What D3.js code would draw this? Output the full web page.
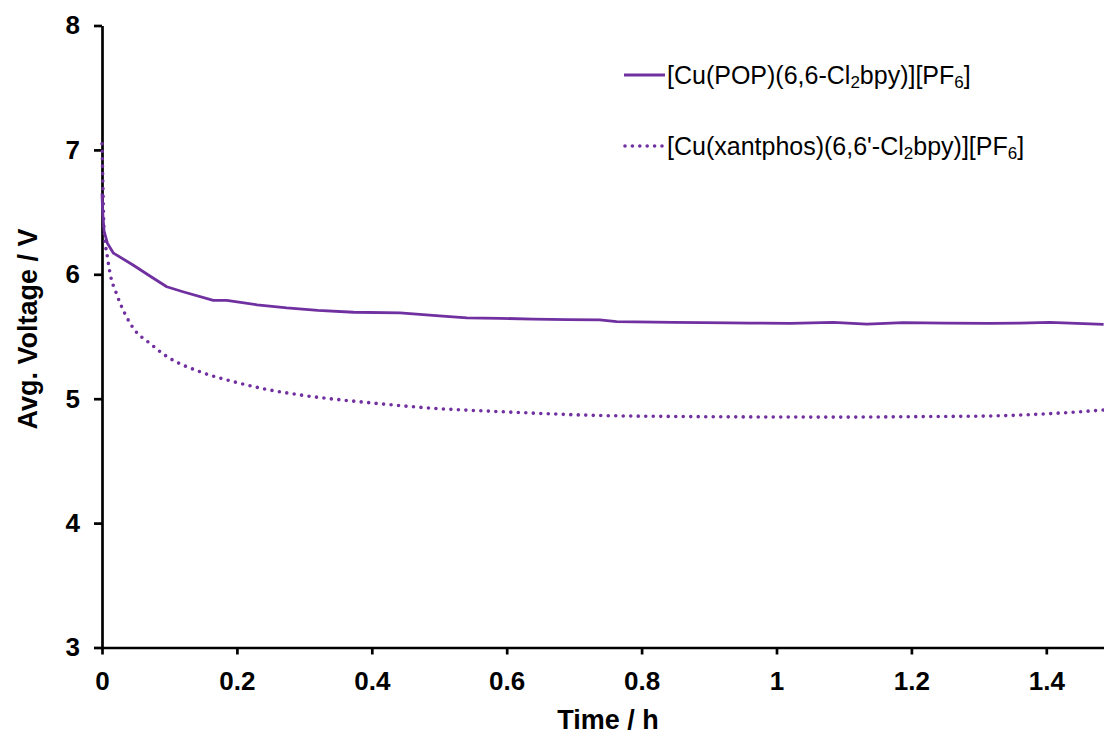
<!DOCTYPE html>
<html>
<head>
<meta charset="utf-8">
<script src="https://cdn.jsdelivr.net/npm/d3@7"></script>
<style>
  html, body { margin: 0; padding: 0; background: #fff; }
  svg { display: block; font-family: "Liberation Sans", Arial, Helvetica, sans-serif; }
  .axis path, .axis line { stroke: #000; stroke-width: 2.7; }
  .axis text { font-size: 26px; font-weight: bold; fill: #000; }
  .title { font-size: 27px; font-weight: bold; fill: #000; }
  .legend text { font-size: 25px; fill: #000; }
</style>
</head>
<body>
<svg id="chart" width="1104" height="736"></svg>
<script>
// Average voltage over time for two Cu(I) complexes
const popTime = [0, 0.001, 0.003, 0.008, 0.017, 0.046, 0.071, 0.096, 0.12, 0.165, 0.185, 0.23, 0.274, 0.32, 0.373, 0.442, 0.5, 0.541, 0.59, 0.639, 0.69, 0.738, 0.763, 0.847, 0.93, 0.961, 1.02, 1.084, 1.134, 1.188, 1.25, 1.317, 1.36, 1.405, 1.485];
const popVolt = [6.65, 6.5, 6.35, 6.25, 6.17, 6.075, 5.986, 5.90, 5.86, 5.79, 5.79, 5.755, 5.73, 5.71, 5.695, 5.69, 5.665, 5.65, 5.646, 5.64, 5.636, 5.633, 5.62, 5.614, 5.61, 5.608, 5.606, 5.614, 5.60, 5.611, 5.607, 5.606, 5.607, 5.614, 5.598];

const xanTime = [0, 0.001, 0.002, 0.003, 0.008, 0.0143, 0.019, 0.0267, 0.046, 0.071, 0.096, 0.145, 0.195, 0.244, 0.294, 0.392, 0.491, 0.59, 0.738, 0.85, 1.0, 1.1, 1.217, 1.317, 1.415, 1.485];
const xanVolt = [7.05, 6.8, 6.55, 6.36, 6.14, 5.95, 5.88, 5.77, 5.57, 5.445, 5.34, 5.217, 5.137, 5.075, 5.03, 4.97, 4.923, 4.896, 4.865, 4.857, 4.853, 4.852, 4.856, 4.861, 4.883, 4.909];

const xTicks = [0, 0.2, 0.4, 0.6, 0.8, 1, 1.2, 1.4];
const yTicks = [3, 4, 5, 6, 7, 8];

const purple = "#7030A0";

const svg = d3.select("#chart");

const x = d3.scaleLinear().domain([0, 1.5]).range([102, 1113.75]);
const y = d3.scaleLinear().domain([3, 8]).range([647.5, 25.5]);

// axes
svg.append("g")
  .attr("class", "axis")
  .attr("transform", `translate(0,${y(3)})`)
  .call(d3.axisBottom(x).tickValues(xTicks).tickSize(7).tickSizeOuter(0).tickPadding(17)
    .tickFormat(d => String(+d.toFixed(1))));

svg.append("g")
  .attr("class", "axis")
  .attr("transform", `translate(${x(0)},0)`)
  .call(d3.axisLeft(y).tickValues(yTicks).tickSize(8).tickSizeOuter(0).tickPadding(14)
    .tickFormat(d3.format("d")));

// axis titles
svg.append("text")
  .attr("class", "title")
  .attr("x", 608).attr("y", 729)
  .attr("text-anchor", "middle")
  .text("Time / h");

svg.append("text")
  .attr("class", "title")
  .attr("transform", "translate(37,329) rotate(-90)")
  .attr("text-anchor", "middle")
  .text("Avg. Voltage / V");

// series
const pop = popTime.map((t, i) => [t, popVolt[i]]);
const xan = xanTime.map((t, i) => [t, xanVolt[i]]);

svg.append("path")
  .datum(pop)
  .attr("fill", "none")
  .attr("stroke", purple)
  .attr("stroke-width", 2.8)
  .attr("stroke-linejoin", "round")
  .attr("d", d3.line().x(d => x(d[0])).y(d => y(d[1])).curve(d3.curveLinear));

svg.append("path")
  .datum(xan)
  .attr("fill", "none")
  .attr("stroke", purple)
  .attr("stroke-width", 3.6)
  .attr("stroke-linecap", "round")
  .attr("stroke-dasharray", "0 7.5")
  .attr("d", d3.line().x(d => x(d[0])).y(d => y(d[1])).curve(d3.curveMonotoneX));

// legend
const legend = svg.append("g").attr("class", "legend");

function legendLabel(g, yBase, parts) {
  const t = g.append("text").attr("x", 667).attr("y", yBase);
  let shifted = false;
  parts.forEach(p => {
    const sp = t.append("tspan").text(p.s);
    if (p.sub) {
      sp.attr("font-size", 17).attr("dy", 4);
      shifted = true;
    } else if (shifted) {
      sp.attr("dy", -4);
      shifted = false;
    }
  });
}

legend.append("line")
  .attr("x1", 624).attr("x2", 665).attr("y1", 75).attr("y2", 75)
  .attr("stroke", purple).attr("stroke-width", 2.8);
legendLabel(legend, 84, [
  { s: "[Cu(POP)(6,6-Cl" }, { s: "2", sub: true }, { s: "bpy)][PF" }, { s: "6", sub: true }, { s: "]" }
]);

legend.append("line")
  .attr("x1", 625).attr("x2", 663).attr("y1", 146).attr("y2", 146)
  .attr("stroke", purple).attr("stroke-width", 3.6)
  .attr("stroke-linecap", "round").attr("stroke-dasharray", "0 7.4");
legendLabel(legend, 155, [
  { s: "[Cu(xantphos)(6,6'-Cl" }, { s: "2", sub: true }, { s: "bpy)][PF" }, { s: "6", sub: true }, { s: "]" }
]);
</script>
</body>
</html>
